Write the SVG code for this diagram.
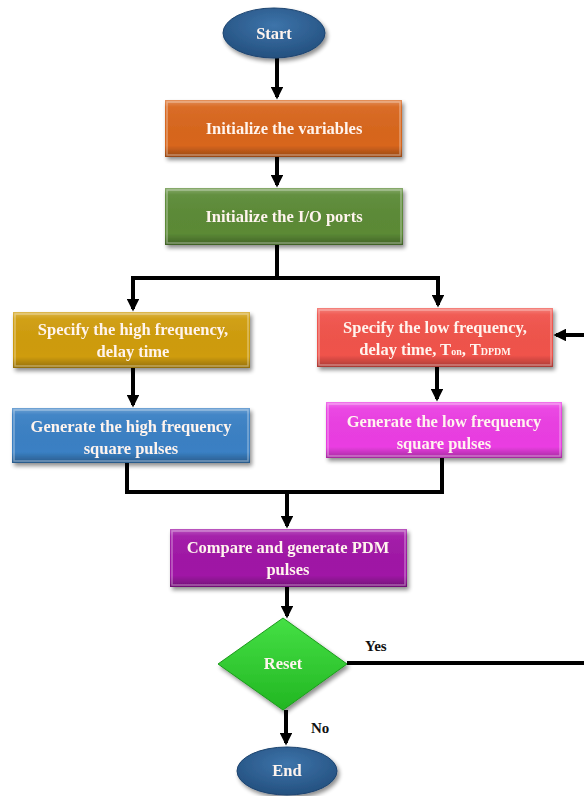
<svg xmlns="http://www.w3.org/2000/svg" width="584" height="796" viewBox="0 0 584 796">
  <style>
    .lbl { font-family: "Liberation Serif", "Times New Roman", serif; font-weight: bold; font-size: 16.5px; fill: #fff4ee; text-anchor: middle; }
    .tag { font-family: "Liberation Serif", "Times New Roman", serif; font-weight: bold; font-size: 15px; fill: #111; }
    .wire { fill: none; stroke: #000; stroke-width: 4; }
    .arrow { fill: none; stroke: #000; stroke-width: 4; marker-end: url(#head); }
    .bevel { fill: url(#shade); }
    .edge { fill: none; stroke: rgba(255,255,255,0.35); stroke-width: 1.5; }
  </style>
  <defs>
    <marker id="head" viewBox="0 0 10 10" refX="8" refY="5" markerWidth="3.2" markerHeight="3.2" orient="auto">
      <path d="M0,0 L10,5 L0,10 z" fill="#000"/>
    </marker>
    <filter id="drop" x="-10%" y="-20%" width="125%" height="150%">
      <feGaussianBlur in="SourceAlpha" stdDeviation="2"/>
      <feOffset dx="2" dy="3" result="b"/>
      <feComponentTransfer><feFuncA type="linear" slope="0.45"/></feComponentTransfer>
      <feMerge><feMergeNode/><feMergeNode in="SourceGraphic"/></feMerge>
    </filter>
    <linearGradient id="shade" x1="0" y1="0" x2="0" y2="1">
      <stop offset="0" stop-color="#fff" stop-opacity="0.28"/>
      <stop offset="0.12" stop-color="#fff" stop-opacity="0.05"/>
      <stop offset="0.8" stop-color="#000" stop-opacity="0"/>
      <stop offset="1" stop-color="#000" stop-opacity="0.3"/>
    </linearGradient>
    <radialGradient id="oval" cx="0.5" cy="0.35" r="0.65">
      <stop offset="0" stop-color="#3d74aa"/>
      <stop offset="1" stop-color="#24507f"/>
    </radialGradient>
    <linearGradient id="gem" x1="0" y1="0" x2="0" y2="1">
      <stop offset="0" stop-color="#45e045"/>
      <stop offset="1" stop-color="#22b622"/>
    </linearGradient>
  </defs>

  <!-- connectors -->
  <g id="connectors">
    <line class="arrow" x1="277" y1="58" x2="277" y2="97"/>
    <line class="arrow" x1="277" y1="157" x2="277" y2="185"/>
    <polyline class="wire" points="277,245 277,278"/>
    <polyline class="wire" points="131,278 440,278"/>
    <line class="arrow" x1="133" y1="278" x2="133" y2="309"/>
    <line class="arrow" x1="438" y1="278" x2="438" y2="305"/>
    <line class="arrow" x1="133" y1="368" x2="133" y2="405"/>
    <line class="arrow" x1="437" y1="367" x2="437" y2="399"/>
    <polyline class="wire" points="127,463 127,492"/>
    <polyline class="wire" points="442,458 442,492"/>
    <polyline class="wire" points="125,492 444,492"/>
    <line class="arrow" x1="287" y1="492" x2="287" y2="526"/>
    <line class="arrow" x1="287" y1="587" x2="287" y2="616"/>
    <polyline class="wire" points="347,663 584,663"/>
    <line class="arrow" x1="584" y1="335" x2="556" y2="335"/>
    <line class="arrow" x1="286" y1="710" x2="286" y2="743"/>
    <text class="tag" x="365" y="651">Yes</text>
    <text class="tag" x="311" y="733">No</text>
  </g>

  <!-- terminals, process boxes and decision -->
  <g id="start" filter="url(#drop)">
    <ellipse cx="274" cy="33" rx="51" ry="25" fill="url(#oval)" stroke="#1d4470" stroke-width="1"/>
    <text class="lbl" x="274" y="39">Start</text>
  </g>

  <g id="init-vars" filter="url(#drop)">
    <rect x="165" y="100" width="237" height="57" fill="#d8661d"/>
    <rect class="bevel" x="165" y="100" width="237" height="57"/>
    <rect class="edge" x="167" y="102" width="233" height="53"/>
    <text class="lbl" x="284" y="134">Initialize the variables</text>
  </g>

  <g id="init-ports" filter="url(#drop)">
    <rect x="165" y="188" width="238" height="57" fill="#5b8a36"/>
    <rect class="bevel" x="165" y="188" width="238" height="57"/>
    <rect class="edge" x="167" y="190" width="234" height="53"/>
    <text class="lbl" x="284" y="222">Initialize the I/O ports</text>
  </g>

  <g id="high-spec" filter="url(#drop)">
    <rect x="13" y="312" width="237" height="56" fill="#cf9c0c"/>
    <rect class="bevel" x="13" y="312" width="237" height="56"/>
    <rect class="edge" x="15" y="314" width="233" height="52"/>
    <text class="lbl" x="133" y="335">Specify the high frequency,</text>
    <text class="lbl" x="133" y="357">delay time</text>
  </g>

  <g id="high-gen" filter="url(#drop)">
    <rect x="12" y="408" width="238" height="55" fill="#3a80c4"/>
    <rect class="bevel" x="12" y="408" width="238" height="55"/>
    <rect class="edge" x="14" y="410" width="234" height="51"/>
    <text class="lbl" x="131" y="432">Generate the high frequency</text>
    <text class="lbl" x="131" y="454">square pulses</text>
  </g>

  <g id="low-spec" filter="url(#drop)">
    <rect x="317" y="308" width="236" height="59" fill="#f0534b"/>
    <rect class="bevel" x="317" y="308" width="236" height="59"/>
    <rect class="edge" x="319" y="310" width="232" height="55"/>
    <text class="lbl" x="435" y="333">Specify the low frequency,</text>
    <text class="lbl" x="435" y="355">delay time, T<tspan font-size="10">on</tspan>, T<tspan font-size="10">DPDM</tspan></text>
  </g>

  <g id="low-gen" filter="url(#drop)">
    <rect x="326" y="402" width="236" height="56" fill="#ea3ee2"/>
    <rect class="bevel" x="326" y="402" width="236" height="56"/>
    <rect class="edge" x="328" y="404" width="232" height="52"/>
    <text class="lbl" x="444" y="427">Generate the low frequency</text>
    <text class="lbl" x="444" y="449">square pulses</text>
  </g>

  <g id="compare" filter="url(#drop)">
    <rect x="170" y="529" width="237" height="58" fill="#a016a6"/>
    <rect class="bevel" x="170" y="529" width="237" height="58"/>
    <rect class="edge" x="172" y="531" width="233" height="54"/>
    <text class="lbl" x="288" y="553">Compare and generate PDM</text>
    <text class="lbl" x="288" y="575">pulses</text>
  </g>

  <g id="reset" filter="url(#drop)">
    <polygon points="283,618 347,664 283,710 218,664" fill="url(#gem)" stroke="#1c9a1c" stroke-width="1"/>
    <text class="lbl" x="283" y="669">Reset</text>
  </g>

  <g id="end" filter="url(#drop)">
    <ellipse cx="287" cy="771" rx="50" ry="24" fill="url(#oval)" stroke="#1d4470" stroke-width="1"/>
    <text class="lbl" x="287" y="776">End</text>
  </g>
</svg>
